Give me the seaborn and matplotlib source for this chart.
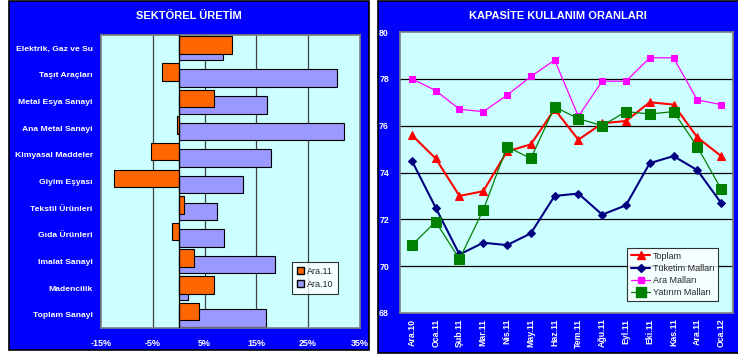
import numpy as np
import pandas as pd
import matplotlib
matplotlib.use('Agg')
import matplotlib.pyplot as plt
import seaborn as sns
from matplotlib.patches import Rectangle, Patch
from matplotlib.lines import Line2D
from matplotlib.ticker import FuncFormatter

# sektörel üretim verileri (%)
sektorler = ['Elektrik, Gaz ve Su', 'Taşıt Araçları', 'Metal Esya Sanayi', 'Ana Metal Sanayi',
             'Kimyasal Maddeler', 'Giyim Eşyası', 'Tekstil Ürünleri', 'Gıda Ürünleri',
             'Imalat Sanayi', 'Madencilik', 'Toplam Sanayi']
ara11 = [10.2, -3.3, 6.9, -0.3, -5.4, -12.5, 1.0, -1.2, 2.9, 6.9, 3.9]
ara10 = [8.5, 30.5, 17.0, 31.9, 17.8, 12.4, 7.3, 8.7, 18.5, 1.7, 16.8]

# kapasite kullanım oranları
aylar = ['Ara.10', 'Oca.11', 'Şub.11', 'Mar.11', 'Nis.11', 'May.11', 'Haz.11',
         'Tem.11', 'Ağu.11', 'Eyl.11', 'Eki.11', 'Kas.11', 'Ara.11', 'Oca.12']
toplam = [75.6, 74.6, 73.0, 73.2, 74.9, 75.2, 76.7, 75.4, 76.1, 76.2, 77.0, 76.9, 75.5, 74.7]
tuketim = [74.5, 72.5, 70.5, 71.0, 70.9, 71.4, 73.0, 73.1, 72.2, 72.6, 74.4, 74.7, 74.1, 72.7]
ara_mal = [78.0, 77.5, 76.7, 76.6, 77.3, 78.1, 78.8, 76.4, 77.9, 77.9, 78.9, 78.9, 77.1, 76.9]
yatirim = [70.9, 71.9, 70.3, 72.4, 75.1, 74.6, 76.8, 76.3, 76.0, 76.6, 76.5, 76.6, 75.1, 73.3]

sns.set_theme(style='white')
plt.rcParams['font.family'] = ['Liberation Sans', 'DejaVu Sans']

W, H = 738, 356
fig = plt.figure(figsize=(W / 100, H / 100), dpi=100)
fig.patch.set_facecolor('white')

def px_rect(x0, y0, x1, y1):
    # piksel koordinatlarından figür oranlarına
    return [x0 / W, (H - y1) / H, (x1 - x0) / W, (y1 - y0) / H]

mavi = '#0000FF'
arka = '#CCFFFF'

# panel arka planları
for x0, y0, x1, y1 in [(9, 1, 369, 350), (378, 1, 740, 353)]:
    fig.patches.append(Rectangle((x0 / W, (H - y1) / H), (x1 - x0) / W, (y1 - y0) / H,
                                 transform=fig.transFigure, facecolor=mavi,
                                 edgecolor='black', linewidth=1.2, zorder=-5))

# ---------------- sol grafik ----------------
ax1 = fig.add_axes(px_rect(101, 35, 360, 328))
ax1.set_facecolor(arka)
n = len(sektorler)
pos = np.arange(n)
ax1.barh(pos + 0.12, ara10, height=0.66, color='#9999FF', edgecolor='black', linewidth=0.8, zorder=2)
ax1.barh(pos - 0.12, ara11, height=0.66, color='#FF6600', edgecolor='black', linewidth=0.8, zorder=3)
ax1.set_ylim(n - 0.5, -0.5)
ax1.set_xlim(-15, 35)
ax1.set_xticks(np.arange(-15, 36, 10))
ax1.xaxis.set_major_formatter(FuncFormatter(lambda v, p: f'{v:.0f}%'))
for g in [-5, 5, 15, 25]:
    ax1.axvline(g, color='#404040', linewidth=0.9, zorder=1)
ax1.axvline(0, color='black', linewidth=0.9, zorder=4)
ax1.set_yticks(pos)
ax1.set_yticklabels(sektorler)
ax1.tick_params(axis='y', length=0, colors='white', labelsize=6.1, pad=6)
ax1.tick_params(axis='x', length=0, colors='white', labelsize=6.5, pad=8)
for lab in ax1.get_xticklabels() + ax1.get_yticklabels():
    lab.set_fontweight('bold')
for s in ax1.spines.values():
    s.set_color('#808080')
    s.set_linewidth(1.2)
fig.text(189 / W, 1 - 16 / H, 'SEKTÖREL ÜRETİM', color='white', fontsize=8,
         fontweight='bold', ha='center', va='center')
leg1 = ax1.legend(handles=[Patch(facecolor='#FF6600', edgecolor='black', label='Ara.11'),
                           Patch(facecolor='#9999FF', edgecolor='black', label='Ara.10')],
                  loc='upper left', bbox_to_anchor=((292 - 101) / 259, 1 - (262 - 35) / 293),
                  fontsize=6.5, frameon=True, fancybox=False, handlelength=0.8, handleheight=0.8,
                  handletextpad=0.4, borderpad=0.5, labelspacing=0.5, borderaxespad=0)
leg1.get_frame().set_edgecolor('black')
leg1.get_frame().set_linewidth(0.8)

# ---------------- sağ grafik ----------------
ax2 = fig.add_axes(px_rect(400, 32, 733, 313))
ax2.set_facecolor(arka)
x = np.arange(len(aylar))
seriler = [
    ('Ara Malları', ara_mal, '#FF00FF', 's', 5, 0.9),
    ('Toplam', toplam, '#FF0000', '^', 6, 1.5),
    ('Tüketim Malları', tuketim, '#000080', 'D', 4, 1.5),
    ('Yatırım Malları', yatirim, '#008000', 's', 7, 0.9),
]
stil = {}
for ad, vals, renk, mk, ms, lw in seriler:
    sns.lineplot(x=x, y=vals, ax=ax2, color=renk, marker=mk, markersize=ms,
                 markeredgecolor=renk, linewidth=lw, zorder=3)
    stil[ad] = (renk, mk, ms, lw)
ax2.set_xlim(-0.5, len(aylar) - 0.5)
ax2.set_ylim(68, 80)
ax2.set_yticks(np.arange(68, 81, 2))
for g in [70, 72, 74, 76, 78]:
    ax2.axhline(g, color='black', linewidth=0.9, zorder=1)
ax2.set_xticks(x)
ax2.set_xticklabels(aylar, rotation=90)
ax2.tick_params(axis='both', length=0, colors='white', labelsize=6.3)
ax2.tick_params(axis='y', pad=8)
ax2.tick_params(axis='x', pad=4)
for lab in ax2.get_xticklabels() + ax2.get_yticklabels():
    lab.set_fontweight('bold')
for s in ax2.spines.values():
    s.set_color('#808080')
    s.set_linewidth(1.2)
fig.text(558 / W, 1 - 16 / H, 'KAPASİTE KULLANIM ORANLARI', color='white', fontsize=8,
         fontweight='bold', ha='center', va='center')
sira = ['Toplam', 'Tüketim Malları', 'Ara Malları', 'Yatırım Malları']
handles = [Line2D([0], [0], color=stil[a][0], marker=stil[a][1], markersize=stil[a][2],
                  linewidth=stil[a][3], label=a) for a in sira]
leg2 = ax2.legend(handles=handles, loc='upper left',
                  bbox_to_anchor=((627 - 400) / 333, 1 - (248 - 32) / 281),
                  fontsize=6.5, frameon=True, fancybox=False, handlelength=2.2,
                  handletextpad=0.3, borderpad=0.4, labelspacing=0.35, borderaxespad=0)
leg2.get_frame().set_edgecolor('black')
leg2.get_frame().set_linewidth(0.8)

fig.savefig('out.png', dpi=100, facecolor=fig.get_facecolor())
